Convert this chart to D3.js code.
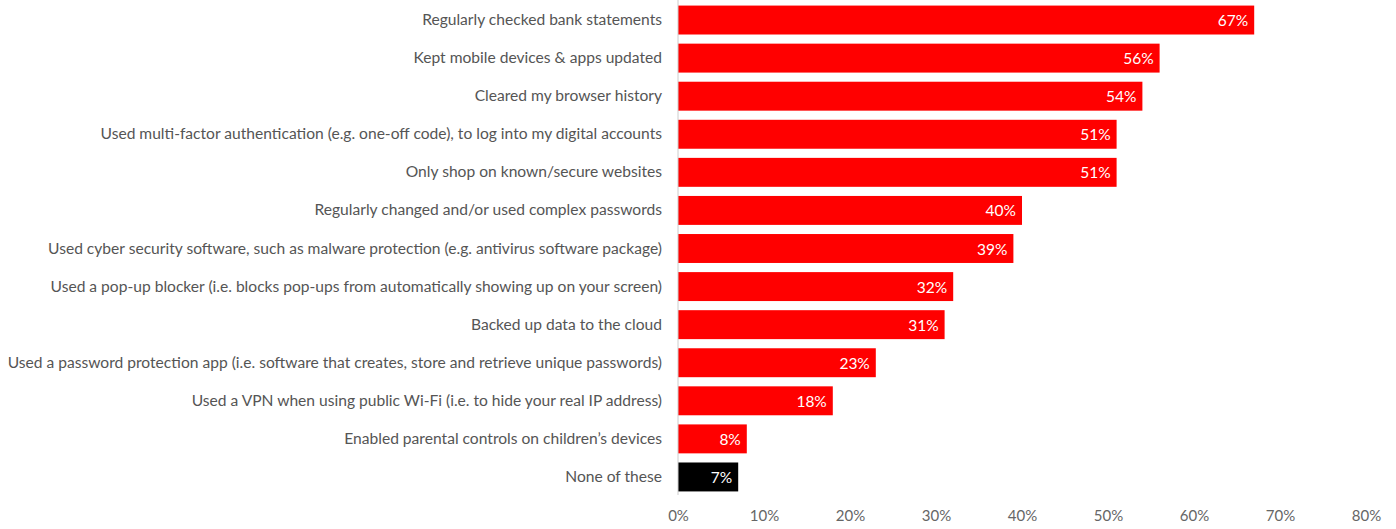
<!DOCTYPE html>
<html>
<head>
<meta charset="utf-8">
<script src="https://cdn.jsdelivr.net/npm/d3@7"></script>
<style>
  html, body { margin: 0; padding: 0; background: #fff; }
  svg { display: block; font-family: "Lato", "Open Sans", sans-serif; }
</style>
</head>
<body>
<svg id="chart" width="1396" height="529"></svg>
<script>
const categories = [
  "Regularly checked bank statements",
  "Kept mobile devices & apps updated",
  "Cleared my browser history",
  "Used multi-factor authentication (e.g. one-off code), to log into my digital accounts",
  "Only shop on known/secure websites",
  "Regularly changed and/or used complex passwords",
  "Used cyber security software, such as malware protection (e.g. antivirus software package)",
  "Used a pop-up blocker (i.e. blocks pop-ups from automatically showing up on your screen)",
  "Backed up data to the cloud",
  "Used a password protection app (i.e. software that creates, store and retrieve unique passwords)",
  "Used a VPN when using public Wi-Fi (i.e. to hide your real IP address)",
  "Enabled parental controls on children\u2019s devices",
  "None of these"
];
const values = [67, 56, 54, 51, 51, 40, 39, 32, 31, 23, 18, 8, 7];
const barColors = ["#ff0000", "#ff0000", "#ff0000", "#ff0000", "#ff0000", "#ff0000", "#ff0000",
                   "#ff0000", "#ff0000", "#ff0000", "#ff0000", "#ff0000", "#000000"];
const xTicks = [0, 10, 20, 30, 40, 50, 60, 70, 80];

const svg = d3.select("#chart");
const x0 = 678, x1 = 1366;

const x = d3.scaleLinear().domain([0, 80]).range([x0, x1]);
const y = d3.scaleBand().domain(categories).range([1, 496]).paddingInner(0.24).paddingOuter(0.12);

// bars
svg.append("g").selectAll("rect")
  .data(categories)
  .join("rect")
  .attr("x", x(0))
  .attr("y", d => y(d))
  .attr("width", (d, i) => x(values[i]) - x(0))
  .attr("height", y.bandwidth())
  .attr("fill", (d, i) => barColors[i]);

// value labels inside bar ends
svg.append("g").selectAll("text")
  .data(categories)
  .join("text")
  .attr("x", (d, i) => x(values[i]) - 6)
  .attr("y", d => y(d) + y.bandwidth() / 2 + 6)
  .attr("text-anchor", "end")
  .attr("fill", "#fff")
  .attr("font-size", 15.5)
  .text((d, i) => values[i] + "%");

// category labels
svg.append("g").selectAll("text")
  .data(categories)
  .join("text")
  .attr("x", x0 - 16)
  .attr("y", d => y(d) + y.bandwidth() / 2 + 5)
  .attr("text-anchor", "end")
  .attr("fill", "#555")
  .attr("font-size", 15.6)
  .text(d => d);

// vertical baseline
svg.append("line")
  .attr("x1", x0).attr("x2", x0)
  .attr("y1", 0).attr("y2", 495)
  .attr("stroke", "#ccc").attr("stroke-width", 1);

// x axis
const xAxis = d3.axisBottom(x).tickValues(xTicks).tickFormat(d => d + "%").tickSize(0).tickPadding(0);
const ax = svg.append("g").attr("transform", "translate(0,510)").call(xAxis);
ax.select(".domain").remove();
ax.selectAll("text")
  .attr("fill", "#666")
  .attr("font-size", 15)
  .attr("font-family", "Lato, 'Open Sans', sans-serif");
</script>
</body>
</html>
